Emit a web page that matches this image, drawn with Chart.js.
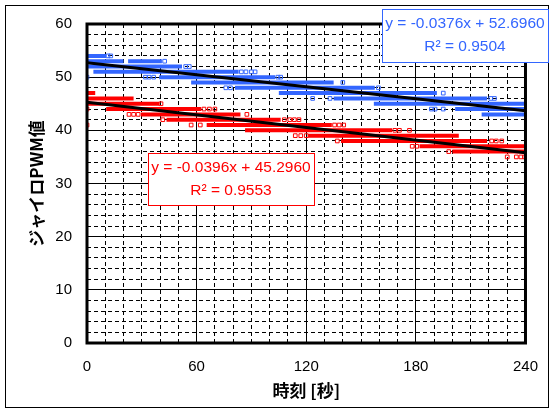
<!DOCTYPE html>
<html>
<head>
<meta charset="utf-8">
<script src="https://cdn.jsdelivr.net/npm/chart.js@4/dist/chart.umd.min.js"></script>
<style>
  html, body { margin: 0; padding: 0; background: #fff; }
  #wrap { width: 553px; height: 412px; }
</style>
</head>
<body>
<div id="wrap"><canvas id="gyro" width="553" height="412"></canvas></div>
<script>
/* Tick labels shown on the axes */
const X_TICKS = [0, 60, 120, 180, 240];
const Y_TICKS = [0, 10, 20, 30, 40, 50, 60];

/* Runs of identical PWM readings: [pwm, t start (s), t end (s)] */
const blueRuns = [
  [54, 0, 10.5], [53, 0, 20], [53, 22.5, 41], [52, 0, 52], [51, 3.5, 83],
  [50, 39.5, 103], [49, 57, 135], [48, 81, 157.5], [47, 105, 191.5],
  [46, 135, 219], [45, 157, 240], [44, 201.5, 240], [43, 216, 240],
];
const redRuns = [
  [47, 0, 4.5], [46, 0, 25.5], [45, 0, 39.5], [44, 10.5, 62.5], [43, 29.5, 84],
  [42, 43.5, 106], [41, 65.5, 134], [40, 86.5, 167], [39, 121, 203.5],
  [38, 139, 219], [37, 182, 240], [36, 200, 240],
];

/* Isolated readings: [t (s), pwm] */
const blueDots = [
  [11.5, 54], [13, 54], [42.5, 53], [54, 52], [56, 52],
  [84.5, 51], [87, 51], [90, 51], [92, 51],
  [0, 50], [32, 50], [34, 50], [36.5, 50], [104.5, 50], [106, 50],
  [140, 49], [76, 48], [78.5, 48], [159.5, 48], [195, 47],
  [123.5, 46], [133, 46], [221, 46], [223, 46],
  [188.5, 44], [190.5, 44], [195, 44],
];
const redDots = [
  [40.5, 45], [0, 44], [64, 44], [67, 44], [70, 44],
  [23, 43], [25.5, 43], [28, 43], [87.5, 43],
  [41.5, 42], [108, 42], [111, 42], [113.5, 42], [116, 42],
  [0, 41], [57, 41], [62, 41], [135.5, 41], [138, 41], [140.5, 41],
  [168.5, 40], [171, 40], [176.5, 40],
  [114, 39], [117, 39], [120, 39],
  [137, 38], [221.5, 38], [224, 38], [227, 38],
  [178, 37], [180.5, 37], [198, 36],
  [230, 35], [235, 35], [237.5, 35], [239.5, 35],
];

/* Linear fits shown in the labels */
const BLUE_FIT = { slope: -0.0376, intercept: 52.6960, r2: 0.9504 };
const RED_FIT = { slope: -0.0396, intercept: 45.2960, r2: 0.9553 };

const BLUE = '#3366ff';
const RED = '#ff0000';
const FONT = "'Liberation Sans', Arial, sans-serif";
const JP_FONT = "'Noto Sans CJK JP', sans-serif";

// run -> two points, then a null to break the line
const runPoints = runs => runs.flatMap(([v, a, b]) => [{ x: a, y: v }, { x: b, y: v }, { x: b, y: null }]);
const dotPoints = dots => dots.map(([t, v]) => ({ x: t, y: v }));
const fitPoints = f => [{ x: 0, y: f.intercept }, { x: 240, y: f.intercept + f.slope * 240 }];
const fitText = f => 'y = ' + f.slope.toFixed(4) + 'x + ' + f.intercept.toFixed(4);

/* Frame of the plot, outer border and the two equation boxes */
const decorPlugin = {
  id: 'decor',
  afterDraw(chart) {
    const { ctx, chartArea: a } = chart;
    ctx.save();
    ctx.strokeStyle = '#000';
    ctx.lineWidth = 1;
    ctx.strokeRect(5.5, 5.5, 543, 402);
    ctx.lineWidth = 3;
    ctx.strokeRect(a.left, a.top, a.right - a.left, a.bottom - a.top);

    const box = (x, y, w, h, color, f) => {
      ctx.fillStyle = '#fff';
      ctx.fillRect(x, y, w, h);
      ctx.lineWidth = 1;
      ctx.strokeStyle = color;
      ctx.strokeRect(x + 0.5, y + 0.5, w, h);
      ctx.fillStyle = color;
      ctx.font = '15.5px ' + FONT;
      ctx.textAlign = 'center';
      ctx.textBaseline = 'middle';
      ctx.fillText(fitText(f), x + w / 2, y + 15);
      ctx.fillText('R\u00b2 = ' + f.r2.toFixed(4), x + w / 2, y + 38);
    };
    box(382, 9, 166, 53, BLUE, BLUE_FIT);
    box(148, 153, 166, 52, RED, RED_FIT);
    ctx.restore();
  },
};

const runStyle = color => ({
  type: 'line', borderColor: color, borderWidth: 4, borderCapStyle: 'butt',
  pointRadius: 0, spanGaps: false, fill: false, order: 2,
});
const dotStyle = color => ({
  type: 'scatter', pointStyle: 'rect', pointRadius: 2.6, borderWidth: 1,
  borderColor: color, backgroundColor: 'rgba(255,255,255,0)', order: 2,
});
const fitStyle = {
  type: 'line', borderColor: '#000', borderWidth: 3, pointRadius: 0, fill: false, order: 0,
};

new Chart(document.getElementById('gyro'), {
  type: 'line',
  plugins: [decorPlugin],
  data: {
    datasets: [
      { ...fitStyle, label: 'blue fit', data: fitPoints(BLUE_FIT) },
      { ...fitStyle, label: 'red fit', data: fitPoints(RED_FIT) },
      { ...runStyle(BLUE), label: 'blue', data: runPoints(blueRuns) },
      { ...dotStyle(BLUE), label: 'blue dots', data: dotPoints(blueDots) },
      { ...runStyle(RED), label: 'red', data: runPoints(redRuns) },
      { ...dotStyle(RED), label: 'red dots', data: dotPoints(redDots) },
    ],
  },
  options: {
    responsive: false,
    animation: false,
    devicePixelRatio: 1,
    layout: { padding: { left: 0, top: 17, right: 23, bottom: 0 } },
    scales: {
      x: {
        type: 'linear', min: 0, max: 240,
        afterFit: s => { s.height = 69; },
        ticks: {
          stepSize: 10, autoSkip: false, maxRotation: 0, padding: 15,
          color: '#000', font: { size: 15, family: FONT },
          callback: v => (X_TICKS.includes(v) ? String(v) : ''),
        },
        grid: { color: '#000', lineWidth: 1, drawTicks: false },
        border: { display: false, dash: c => (c.tick && c.tick.value % 60 !== 0 ? [4, 3] : []) },
        title: {
          display: true, text: '時刻 [秒]', color: '#000',
          font: { size: 17, weight: 'bold', family: JP_FONT }, padding: { top: 0, bottom: 11 },
        },
      },
      y: {
        type: 'linear', min: 0, max: 60,
        afterFit: s => { s.width = 87; },
        ticks: {
          stepSize: 2, autoSkip: false, padding: 15,
          color: '#000', font: { size: 15, family: FONT },
          callback: v => (Y_TICKS.includes(v) ? String(v) : ''),
        },
        grid: { color: '#000', lineWidth: 1, drawTicks: false },
        border: { display: false, dash: c => (c.tick && c.tick.value % 10 !== 0 ? [4, 3] : []) },
        title: {
          display: true, text: 'ジャイロPWM値', color: '#000',
          font: { size: 17, weight: 'bold', family: JP_FONT }, padding: { top: 26, bottom: 0 },
        },
      },
    },
    plugins: { legend: { display: false }, tooltip: { enabled: false } },
  },
});
</script>
</body>
</html>
